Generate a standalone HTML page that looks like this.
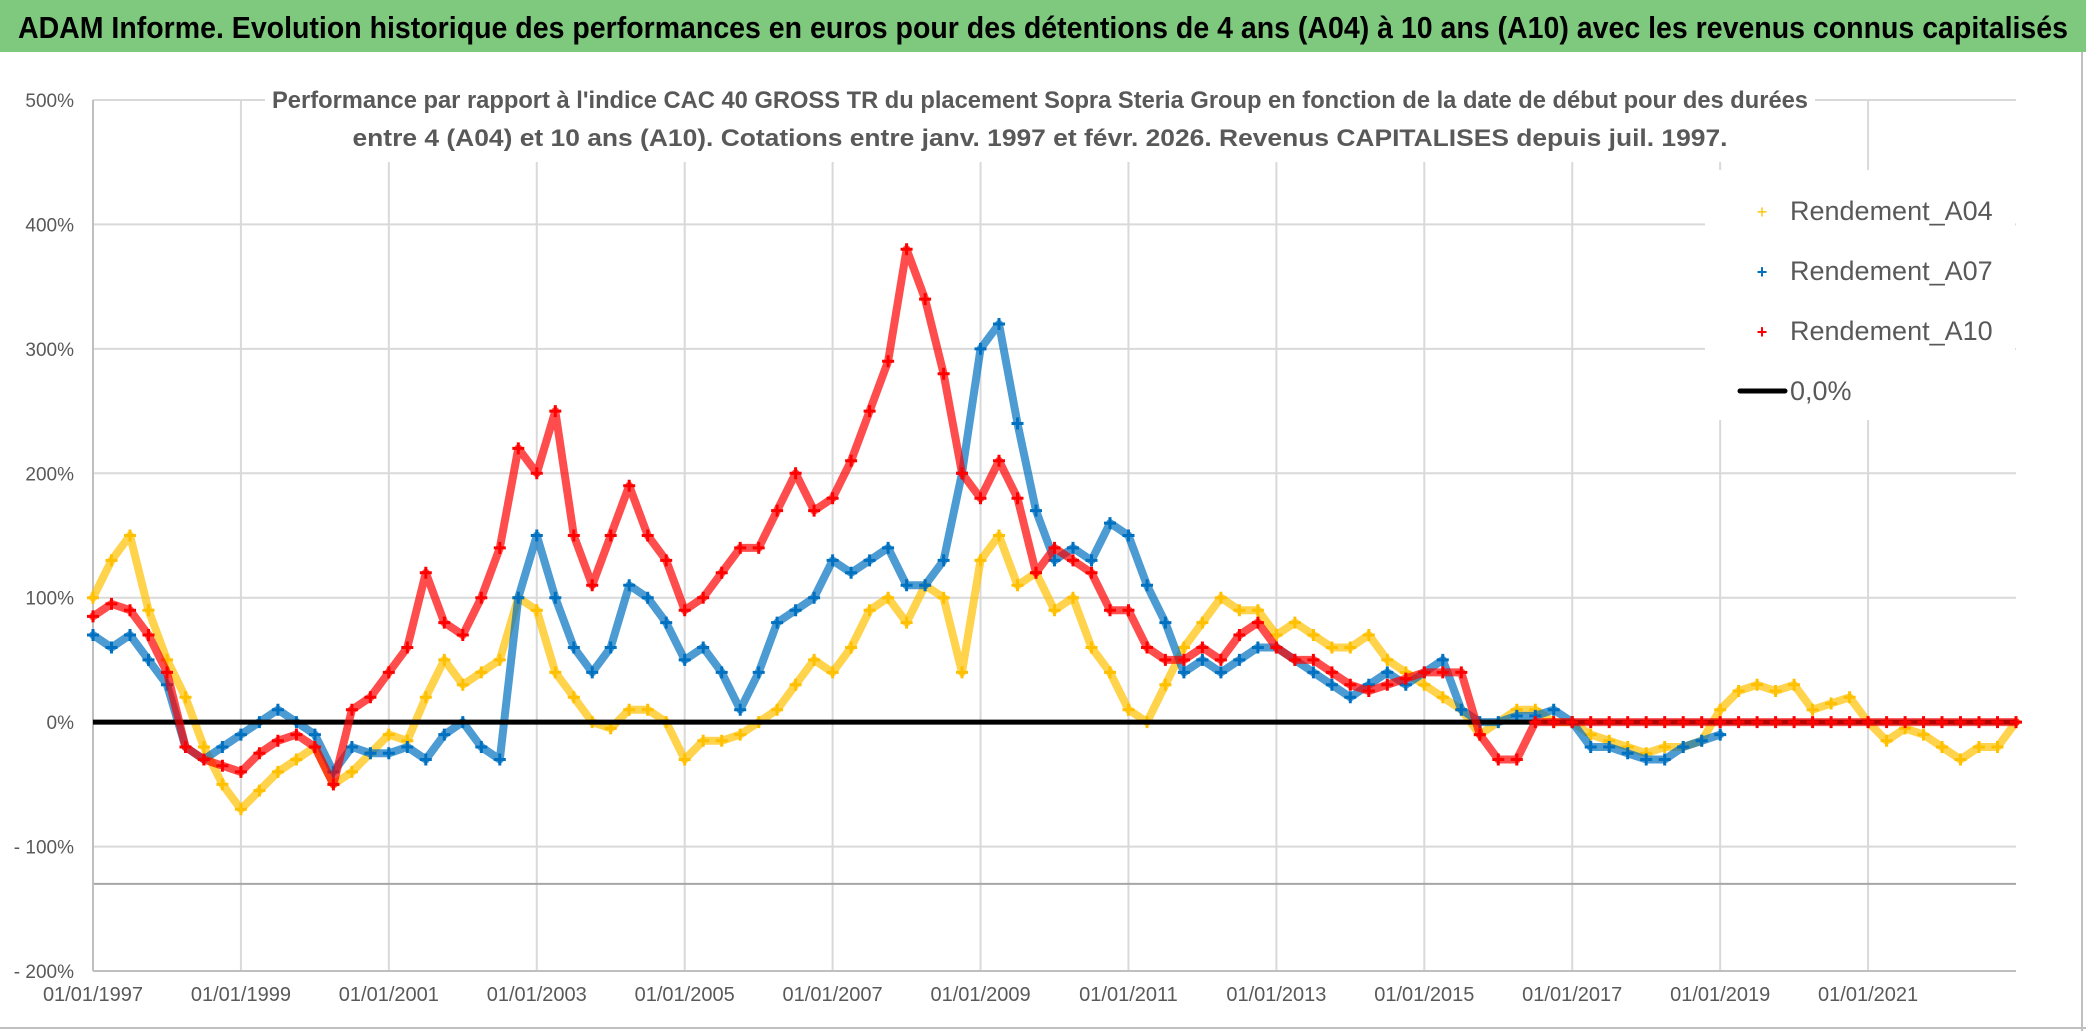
<!DOCTYPE html>
<html><head><meta charset="utf-8">
<style>
html,body{margin:0;padding:0;background:#fff;}
svg{display:block;font-family:"Liberation Sans",sans-serif;}
</style></head>
<body>
<svg id="chart" width="2086" height="1031" viewBox="0 0 2086 1031">
  <rect x="0" y="0" width="2086" height="1031" fill="#fff"/>
  <rect x="0" y="0" width="2086" height="52" fill="#7fc97f"/>
  <text x="1043" y="38" text-anchor="middle" font-size="31" font-weight="bold" fill="#000" textLength="2050" lengthAdjust="spacingAndGlyphs">ADAM Informe. Evolution historique des performances en euros pour des détentions de 4 ans (A04) à 10 ans (A10) avec les revenus connus capitalisés</text>
  <line x1="2082" y1="52" x2="2082" y2="1031" stroke="#bfbfbf" stroke-width="2"/>
  <line x1="0" y1="1028" x2="2086" y2="1028" stroke="#bfbfbf" stroke-width="2"/>
  <g id="grid"></g>
  <g id="series"></g>
  <g id="axes"></g>
  <rect x="265" y="78" width="1550" height="84" fill="#fff"/>
  <text x="1040" y="108" text-anchor="middle" font-size="24" font-weight="bold" fill="#595959" textLength="1536" lengthAdjust="spacingAndGlyphs">Performance par rapport à l'indice CAC 40 GROSS TR  du placement Sopra Steria Group en fonction de la date de début pour des durées</text>
  <text x="1040" y="146" text-anchor="middle" font-size="24" font-weight="bold" fill="#595959" textLength="1375" lengthAdjust="spacingAndGlyphs">entre 4 (A04) et 10 ans (A10). Cotations entre janv. 1997 et févr. 2026. Revenus CAPITALISES depuis juil. 1997.</text>
  <g>
    <rect x="1705" y="170" width="310" height="250" fill="#fff"/>
    <g>
      <text x="1762" y="218" text-anchor="middle" font-size="18" fill="#FFC000">+</text>
      <text x="1790" y="220" font-size="27" fill="#595959">Rendement_A04</text>
    </g>
    <g>
      <text x="1762" y="278" text-anchor="middle" font-size="18" font-weight="bold" fill="#0070C0">+</text>
      <text x="1790" y="280" font-size="27" fill="#595959">Rendement_A07</text>
    </g>
    <g>
      <text x="1762" y="338" text-anchor="middle" font-size="18" font-weight="bold" fill="#FF0000">+</text>
      <text x="1790" y="340" font-size="27" fill="#595959">Rendement_A10</text>
    </g>
    <g>
      <line x1="1740" y1="391" x2="1785" y2="391" stroke="#000" stroke-width="5" stroke-linecap="round"/>
      <text x="1790" y="400" font-size="27" fill="#595959">0,0%</text>
    </g>
  </g>
</svg>
<script>
const yTicks = [500,400,300,200,100,0,-100,-200];
const yTickLabels = ["500%","400%","300%","200%","100%","0%","- 100%","- 200%"];
const xTickYears = [1997,1999,2001,2003,2005,2007,2009,2011,2013,2015,2017,2019,2021];
const xTickLabels = ["01/01/1997","01/01/1999","01/01/2001","01/01/2003","01/01/2005","01/01/2007","01/01/2009","01/01/2011","01/01/2013","01/01/2015","01/01/2017","01/01/2019","01/01/2021"];
const startYear = 1997;
const stepYears = 0.25;
const refLineValue = -130;
const a04 = [100,130,150,90,50,20,-20,-50,-70,-55,-40,-30,-20,-50,-40,-25,-10,-15,20,50,30,40,50,100,90,40,20,0,-5,10,10,0,-30,-15,-15,-10,0,10,30,50,40,60,90,100,80,110,100,40,130,150,110,120,90,100,60,40,10,0,30,60,80,100,90,90,70,80,70,60,60,70,50,40,30,20,10,-10,0,10,10,0,0,-10,-15,-20,-25,-20,-20,-15,10,25,30,25,30,10,15,20,0,-15,-5,-10,-20,-30,-20,-20,0];
const a07 = [70,60,70,50,30,-20,-30,-20,-10,0,10,0,-10,-40,-20,-25,-25,-20,-30,-10,0,-20,-30,100,150,100,60,40,60,110,100,80,50,60,40,10,40,80,90,100,130,120,130,140,110,110,130,200,300,320,240,170,130,140,130,160,150,110,80,40,50,40,50,60,60,50,40,30,20,30,40,30,40,50,10,0,0,5,5,10,0,-20,-20,-25,-30,-30,-20,-15,-10];
const a10 = [85,95,90,70,40,-20,-30,-35,-40,-25,-15,-10,-20,-50,10,20,40,60,120,80,70,100,140,220,200,250,150,110,150,190,150,130,90,100,120,140,140,170,200,170,180,210,250,290,380,340,280,200,180,210,180,120,140,130,120,90,90,60,50,50,60,50,70,80,60,50,50,40,30,25,30,35,40,40,40,-10,-30,-30,0,0,0,0,0,0,0,0,0,0,0,0,0,0,0,0,0,0,0,0,0,0,0,0,0,0,0];

const NS = "http://www.w3.org/2000/svg";
const X0 = 93, X1 = 2016, Y0 = 971, YTOP = 100;
const xMin = 1997, xMax = 2023, yMin = -200, yMax = 500;
function xs(y){ return X0 + (y - xMin) / (xMax - xMin) * (X1 - X0); }
function ys(v){ return Y0 - (v - yMin) / (yMax - yMin) * (Y0 - YTOP); }
function mk(tag, attrs, parent){ const e = document.createElementNS(NS, tag); for (const k in attrs) e.setAttribute(k, attrs[k]); parent.appendChild(e); return e; }

const grid = document.getElementById('grid');
const axes = document.getElementById('axes');
const series = document.getElementById('series');

yTicks.forEach((t, i) => {
  const l = mk('line', {x1: X0, x2: X1, y1: ys(t), y2: ys(t), stroke: '#d9d9d9', 'stroke-width': 2}, grid);
  
  
  const tx = mk('text', {x: 74, y: ys(t) + 7, 'text-anchor': 'end', 'font-size': 19, fill: '#595959'}, axes);
  tx.textContent = yTickLabels[i];
  
  
});
xTickYears.forEach((yr, i) => {
  const l = mk('line', {x1: xs(yr), x2: xs(yr), y1: YTOP, y2: Y0, stroke: '#d9d9d9', 'stroke-width': 2}, grid);
  
  
  const tx = mk('text', {x: xs(yr), y: 1001, 'text-anchor': 'middle', 'font-size': 20, fill: '#595959'}, axes);
  tx.textContent = xTickLabels[i];
  
  
});
const rl = mk('line', {x1: X0, x2: X1, y1: ys(refLineValue), y2: ys(refLineValue), stroke: '#a6a6a6', 'stroke-width': 2}, grid);


const yAxis = mk('line', {x1: X0, x2: X0, y1: YTOP, y2: Y0, stroke: '#bfbfbf', 'stroke-width': 2}, grid);


const xAxis = mk('line', {x1: X0, x2: X1, y1: Y0, y2: Y0, stroke: '#bfbfbf', 'stroke-width': 2}, grid);



function drawSeries(vals, color, name){
  const g = mk('g', {}, series);
  
  
  let d = '', m = '', first = true;
  vals.forEach((v, i) => {
    const yr = startYear + i*stepYears;
    if (yr > xMax) return;
    const x = xs(yr), y = ys(v);
    d += (first ? 'M' : 'L') + x.toFixed(1) + ',' + y.toFixed(1);
    first = false;
    m += 'M' + (x-6).toFixed(1) + ',' + y.toFixed(1) + 'h12M' + x.toFixed(1) + ',' + (y-6).toFixed(1) + 'v12';
  });
  const p = mk('path', {d: d, fill: 'none', stroke: color, 'stroke-width': 8, 'stroke-linejoin': 'round', 'stroke-linecap': 'round', opacity: 0.7}, g);
  
  
  const mp = mk('path', {d: m, fill: 'none', stroke: color, 'stroke-width': 3}, g);
  
  
}
drawSeries(a04, '#FFC000', 'series-a04');
drawSeries(a07, '#0070C0', 'series-a07');
const zl = mk('line', {x1: X0, x2: X1, y1: ys(0), y2: ys(0), stroke: '#000', 'stroke-width': 5}, series);


drawSeries(a10, '#FF0000', 'series-a10');
</script>
</body></html>
